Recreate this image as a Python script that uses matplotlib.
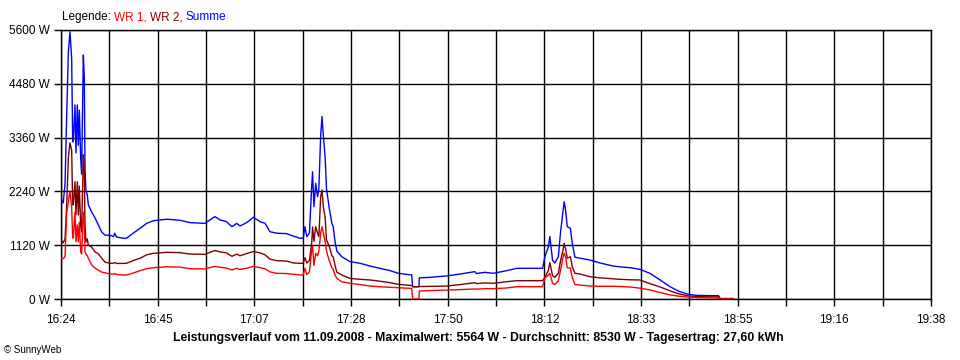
import matplotlib
matplotlib.use('Agg')
import matplotlib.pyplot as plt
import numpy as np

# minutes after 16:24
minutes = [
    0.0, 0.5, 0.9, 1.27, 1.64, 2.0, 2.38, 2.6, 2.75, 3.12, 3.34, 3.64, 3.86, 4.09,
    4.38, 4.6, 4.98, 5.2, 5.35, 5.57, 5.87, 6.09, 6.84, 7.58, 8.33, 9.07, 9.8,
    10.9, 11.7, 12.0, 12.4, 13.9, 14.6, 16.1, 17.6, 19.1, 20.6, 23.6, 26.5, 28.8,
    32.1, 34.3, 35.5, 36.9, 38.1, 39.2, 39.9, 41.4, 42.9, 44.4, 45.5, 46.6, 48.1,
    50.3, 51.8, 53.3, 54.0, 54.4, 54.8, 55.4, 55.9, 56.1, 56.4, 56.8, 57.2, 57.5,
    57.9, 58.2, 58.5, 58.9, 59.2, 59.8, 60.4, 60.7, 61.1, 61.5, 62.6, 64.4, 66.7,
    68.9, 71.1, 73.4, 75.2, 78.2, 78.4, 79.8, 79.9, 82.0, 86.0, 89.0, 92.3, 92.6,
    94.5, 96.4, 99.4, 101.6, 103.8, 107.4, 107.9, 108.7, 109.0, 109.6, 110.1,
    110.9, 111.4, 111.9, 112.2, 112.5, 112.9, 113.6, 114.0, 114.6, 115.7, 117.9,
    120.2, 123.1, 124.6, 127.0, 129.1, 131.3, 133.6, 135.8, 138.0, 139.9, 141.7,
    144.7, 146.6, 147.0, 149.9,
]
wr1 = [
    850, 840, 880, 1810, 2020, 2250, 1900, 1270, 1270, 1810, 1190, 1540, 1190, 1600,
    980, 940, 1810, 1540, 980, 940, 900, 850, 710, 645, 600, 560, 545,
    520, 520, 530, 510, 500, 500, 540, 590, 630, 652, 670, 665, 630,
    625, 680, 660, 645, 604, 640, 615, 640, 680, 650, 630, 565, 535,
    530, 515, 500, 500, 640, 510, 560, 1020, 1100, 700, 950, 900, 1000,
    1370, 1505, 1370, 1200, 1000, 800, 650, 620, 500, 430, 360, 327, 300,
    270, 255, 245, 235, 220, 0, 0, 166, 175, 187, 195, 210, 205,
    215, 215, 230, 256, 256, 256, 437, 500, 535, 330, 300,
    380, 600, 850, 950, 880, 650, 640, 450, 300, 290, 270,
    265, 265, 260, 250, 225, 190, 135, 85, 55, 40, 30,
    25, 20, 0, 0,
]
wr2 = [
    1230, 1170, 1250, 1960, 2935, 3250, 3100, 1960, 1960, 2440, 1750, 2440, 1750, 2350,
    1540, 1395, 3000, 2730, 1540, 1190, 1250, 1120, 1080, 980, 940, 850, 770,
    743, 745, 760, 740, 743, 743, 800, 847, 920, 951, 972, 965, 935,
    930, 1010, 980, 960, 889, 935, 900, 945, 990, 960, 920, 830, 798,
    790, 750, 743, 743, 860, 750, 800, 1160, 1500, 1200, 1505, 1370, 1300,
    2130, 2270, 1920, 1700, 1230, 1100, 900, 880, 700, 560, 500, 430, 410,
    396, 370, 340, 305, 280, 256, 256, 260, 262, 270, 300, 340, 320,
    335, 327, 360, 381, 381, 381, 450, 600, 756, 490, 450,
    535, 800, 1000, 1160, 1050, 850, 880, 670, 535, 520, 465,
    440, 420, 410, 400, 396, 320, 250, 170, 100, 65, 50,
    45, 45, 0, 0,
]
summe = [
    2100, 2000, 2400, 3830, 5140, 5564, 5000, 3300, 3270, 4040, 3040, 4040, 3200, 3930,
    2935, 2600, 5080, 4600, 2700, 2250, 2165, 1960, 1810, 1690, 1540, 1395, 1330,
    1330, 1300, 1370, 1290, 1265, 1265, 1370, 1470, 1575, 1630, 1660, 1640, 1590,
    1575, 1715, 1645, 1610, 1505, 1575, 1520, 1590, 1700, 1610, 1575, 1400, 1370,
    1360, 1310, 1265, 1265, 1505, 1300, 1370, 2340, 2650, 1920, 2410, 2130, 2300,
    3400, 3800, 3400, 2950, 2300, 1900, 1575, 1505, 1200, 1000, 880, 780, 743,
    687, 638, 590, 535, 500, 256, 256, 440, 450, 480, 520, 570, 530,
    555, 535, 590, 638, 638, 640, 880, 1090, 1300, 812, 750,
    880, 1400, 1800, 2025, 1860, 1505, 1470, 1160, 870, 850, 812,
    750, 687, 670, 650, 618, 535, 396, 256, 152, 97, 76,
    70, 70, 10, 10,
]

x_labels = ['16:24', '16:45', '17:07', '17:28', '17:50', '18:12', '18:33', '18:55', '19:16', '19:38']
y_values = [0, 1120, 2240, 3360, 4480, 5600]
title = 'Leistungsverlauf vom 11.09.2008 - Maximalwert: 5564 W - Durchschnitt: 8530 W - Tagesertrag: 27,60 kWh'

plt.rcParams['font.family'] = ['Liberation Sans', 'DejaVu Sans']

fig = plt.figure(figsize=(9.6, 3.6), dpi=100)
ax = fig.add_axes([61 / 960, 61 / 360, 870 / 960, 269 / 360])

x_end = 194
major = np.linspace(0, x_end, len(x_labels))
minor = np.linspace(0, x_end, 2 * len(x_labels) - 1)

for xv in minor:
    ax.axvline(xv, color='black', lw=1, zorder=1)
for yv in y_values:
    ax.axhline(yv, color='black', lw=1, zorder=1)

ax.plot(minutes, summe, color='#0000ff', lw=1, zorder=3)
ax.plot(minutes, wr2, color='#800000', lw=1, zorder=4)
ax.plot(minutes, wr1, color='#ff0000', lw=1, zorder=5)

ax.set_xlim(0, x_end)
ax.set_ylim(0, 5600)
ax.set_xticks(major)
ax.set_xticklabels(x_labels)
ax.set_xticks(minor, minor=True)
ax.set_yticks(y_values)
ax.set_yticklabels([f'{v} W' for v in y_values])
ax.tick_params(axis='x', which='both', length=5, width=1, pad=6, labelsize=8.5)
ax.tick_params(axis='y', length=5, width=1, pad=3, labelsize=8.5)
for sp in ax.spines.values():
    sp.set_linewidth(1)
    sp.set_color('black')

fig.text(0.498, 0.062, title, ha='center', va='center', fontsize=8.8, fontweight='bold')
fig.text(0.004, 0.028, '© SunnyWeb', ha='left', va='center', fontsize=7)

# legend as coloured text pieces
renderer = fig.canvas.get_renderer()
x0 = 62 / 960
parts = [('Legende: ', 'black'), ('WR 1, ', '#ff0000'), ('WR 2, ', '#800000'), ('Summe', '#0000ff')]
for s, c in parts:
    t = fig.text(x0, 0.952, s, color=c, fontsize=8.5, ha='left', va='center')
    bb = t.get_window_extent(renderer=renderer)
    x0 += bb.width / fig.bbox.width

fig.savefig('out.png', dpi=100)
